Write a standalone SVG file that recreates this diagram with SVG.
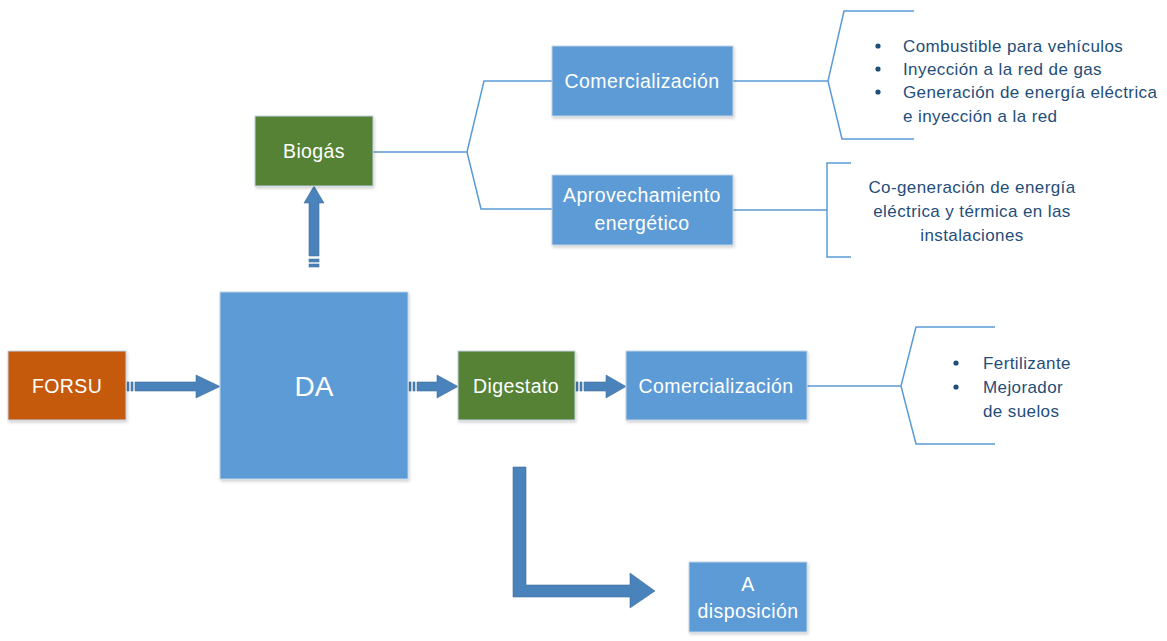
<svg xmlns="http://www.w3.org/2000/svg" width="1167" height="641" viewBox="0 0 1167 641">
<style>
.box{stroke:#c3d3e6;stroke-width:1;filter:url(#sh)}
.blue{fill:#5b9bd5}
.green{fill:#548235}
.orange{fill:#c55a11}
.bt{font-family:"Liberation Sans",Arial,sans-serif;font-size:19.5px;letter-spacing:0.4px;fill:#ffffff;text-anchor:middle}
.lt{font-family:"Liberation Sans",Arial,sans-serif;font-size:17px;letter-spacing:0.4px;fill:#1f4e79}
.ln{fill:none;stroke:#5b9bd5;stroke-width:1.5}
.ar{fill:#4a82bb;stroke:#41719c;stroke-width:0.6}
</style>
<defs>
<filter id="sh" x="-10%" y="-10%" width="130%" height="130%">
<feDropShadow dx="1" dy="2" stdDeviation="1.5" flood-color="#000" flood-opacity="0.18"/>
</filter>
</defs>
<g id="connectors">
<path class="ln" d="M373,152 H467 L484,81 H552 M467,152 L481,209 H552"/>
<path class="ln" d="M733,81 H828 L844,11 H914 M828,81 L842,139 H914"/>
<path class="ln" d="M733,210 H827 M851,163 H827 V257 H851"/>
<path class="ln" d="M807,386 H901 L916,327 H995 M901,386 L916,444 H995"/>
<g id="arrow-forsu-da">
<rect class="ar" x="127" y="382" width="2" height="9"/>
<rect class="ar" x="131" y="382" width="2" height="9"/>
<path class="ar" d="M135,382 H196 V375 L220,386.5 L196,398 V391 H135 Z"/>
</g>
<g id="arrow-da-dig">
<rect class="ar" x="409" y="382" width="2" height="9"/>
<rect class="ar" x="413" y="382" width="2" height="9"/>
<path class="ar" d="M417,382 H437 V375 L458,386.5 L437,398 V391 H417 Z"/>
</g>
<g id="arrow-dig-com">
<rect class="ar" x="576" y="382" width="2" height="9"/>
<rect class="ar" x="580" y="382" width="2" height="9"/>
<path class="ar" d="M584,382 H606 V375 L626,386.5 L606,398 V391 H584 Z"/>
</g>
<g id="arrow-da-biogas">
<rect class="ar" x="309" y="264" width="10" height="3"/>
<rect class="ar" x="309" y="259" width="10" height="3"/>
<path class="ar" d="M309,256 V203 H304 L314,186 L324,203 H319 V256 Z"/>
</g>
<path id="arrow-disposicion" class="ar" d="M513,467 H526 V585 H630 V573 L655,591 L630,608 V597 H513 Z"/>
</g>
<g id="node-forsu">
<rect class="box orange" x="8" y="351" width="118" height="69"/>
<text class="bt" x="67" y="393">FORSU</text>
</g>
<g id="node-da">
<rect class="box blue" x="220" y="292" width="188" height="187"/>
<text class="bt" x="314" y="396" style="font-size:28px;letter-spacing:0">DA</text>
</g>
<g id="node-digestato">
<rect class="box green" x="458" y="351" width="117" height="69"/>
<text class="bt" x="516" y="393">Digestato</text>
</g>
<g id="node-com2">
<rect class="box blue" x="626" y="351" width="181" height="69"/>
<text class="bt" x="716" y="393">Comercialización</text>
</g>
<g id="node-biogas">
<rect class="box green" x="255" y="116" width="118" height="70"/>
<text class="bt" x="314" y="158">Biogás</text>
</g>
<g id="node-com1">
<rect class="box blue" x="552" y="46" width="181" height="70"/>
<text class="bt" x="642" y="88">Comercialización</text>
</g>
<g id="node-aprov">
<rect class="box blue" x="552" y="175" width="181" height="70"/>
<text class="bt" x="642" y="202">Aprovechamiento</text>
<text class="bt" x="642" y="230">energético</text>
</g>
<g id="node-disposicion">
<rect class="box blue" x="689" y="562" width="118" height="70"/>
<text class="bt" x="748" y="591">A</text>
<text class="bt" x="748" y="618">disposición</text>
</g>
<g id="list-com1">
<circle cx="878" cy="46" r="2.6" fill="#1f4e79"/>
<circle cx="878" cy="69" r="2.6" fill="#1f4e79"/>
<circle cx="878" cy="92" r="2.6" fill="#1f4e79"/>
<text class="lt" x="903" y="52">Combustible para vehículos</text>
<text class="lt" x="903" y="75">Inyección a la red de gas</text>
<text class="lt" x="903" y="98">Generación de energía eléctrica</text>
<text class="lt" x="903" y="122">e inyección a la red</text>
</g>
<g id="list-aprov">
<text class="lt" x="972" y="193" text-anchor="middle">Co-generación de energía</text>
<text class="lt" x="972" y="217" text-anchor="middle">eléctrica y térmica en las</text>
<text class="lt" x="972" y="241" text-anchor="middle">instalaciones</text>
</g>
<g id="list-com2">
<circle cx="956" cy="363" r="2.6" fill="#1f4e79"/>
<circle cx="956" cy="387" r="2.6" fill="#1f4e79"/>
<text class="lt" x="983" y="369">Fertilizante</text>
<text class="lt" x="983" y="393">Mejorador</text>
<text class="lt" x="983" y="417">de suelos</text>
</g>
</svg>
